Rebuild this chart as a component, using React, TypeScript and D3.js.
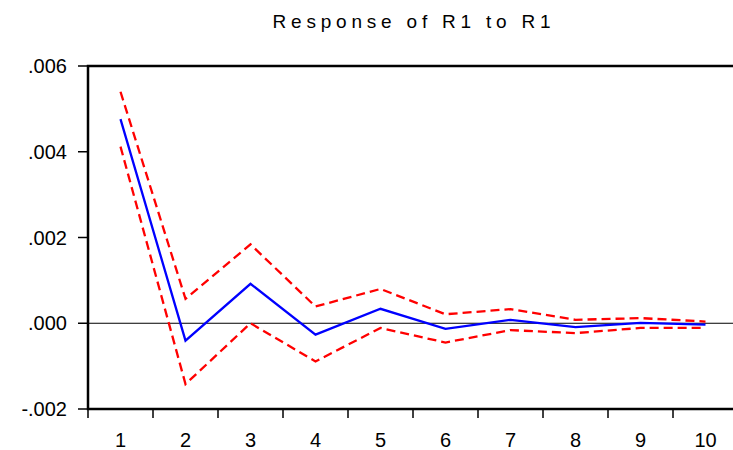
import { useRef, useEffect } from "react";
import * as d3 from "d3";

// periods on the x axis
const periods: string[] = ["1", "2", "3", "4", "5", "6", "7", "8", "9", "10"];

// impulse response and +/- 2 S.E. bands
const response: number[] = [0.00476, -0.000405, 0.00092, -0.000264, 0.000337, -0.00013, 0.00008, -0.00009, 0.00001, -0.00003];
const upperBand: number[] = [0.0054, 0.00057, 0.00184, 0.00039, 0.0008, 0.00021, 0.00033, 0.00008, 0.00012, 0.00004];
const lowerBand: number[] = [0.00412, -0.00142, 0.0, -0.00089, -0.00011, -0.00045, -0.00016, -0.00023, -0.00011, -0.00011];

const yTicks: number[] = [-0.002, 0, 0.002, 0.004, 0.006];
const yTickLabels: string[] = ["-.002", ".000", ".002", ".004", ".006"];

const App = () => {
  const svgRef = useRef<SVGSVGElement | null>(null);

  useEffect(() => {
    const width = 733;
    const height = 450;
    const margin = { top: 66, right: -5, bottom: 41, left: 88 };

    const svg = d3.select(svgRef.current);
    svg.selectAll("*").remove();

    const x = d3.scaleBand<string>()
      .domain(periods)
      .range([margin.left, width - margin.right]);

    const y = d3.scaleLinear()
      .domain([-0.002, 0.006])
      .range([height - margin.bottom, margin.top]);

    const font = "'Liberation Sans', Arial, sans-serif";

    // title
    svg.append("text")
      .attr("x", 414)
      .attr("y", 28)
      .attr("text-anchor", "middle")
      .attr("font-family", font)
      .attr("font-size", 19)
      .attr("letter-spacing", 4.8)
      .attr("fill", "#000")
      .text("Response of R1 to R1");

    // zero line
    svg.append("line")
      .attr("x1", margin.left)
      .attr("x2", width)
      .attr("y1", y(0))
      .attr("y2", y(0))
      .attr("stroke", "#000")
      .attr("stroke-width", 1);

    // lines
    const line = d3.line<number>()
      .x((_, i) => (x(periods[i]) as number) + x.bandwidth() / 2)
      .y(d => y(d));

    svg.append("path")
      .datum(upperBand)
      .attr("d", line)
      .attr("fill", "none")
      .attr("stroke", "#ff0000")
      .attr("stroke-width", 2.3)
      .attr("stroke-dasharray", "9,5");

    svg.append("path")
      .datum(lowerBand)
      .attr("d", line)
      .attr("fill", "none")
      .attr("stroke", "#ff0000")
      .attr("stroke-width", 2.3)
      .attr("stroke-dasharray", "9,5");

    svg.append("path")
      .datum(response)
      .attr("d", line)
      .attr("fill", "none")
      .attr("stroke", "#0000ff")
      .attr("stroke-width", 2.3);

    // frame
    svg.append("rect")
      .attr("x", margin.left)
      .attr("y", margin.top)
      .attr("width", width - margin.right - margin.left)
      .attr("height", height - margin.bottom - margin.top)
      .attr("fill", "none")
      .attr("stroke", "#000")
      .attr("stroke-width", 2.5);

    // y axis ticks + labels
    const yAxis = svg.append("g");
    yAxis.selectAll("line")
      .data(yTicks)
      .join("line")
      .attr("x1", margin.left - 10)
      .attr("x2", margin.left)
      .attr("y1", d => y(d))
      .attr("y2", d => y(d))
      .attr("stroke", "#000")
      .attr("stroke-width", 1.5);
    yAxis.selectAll("text")
      .data(yTicks)
      .join("text")
      .attr("x", margin.left - 21)
      .attr("y", d => y(d) + 7)
      .attr("text-anchor", "end")
      .attr("font-family", font)
      .attr("font-size", 20)
      .attr("fill", "#000")
      .text((_, i) => yTickLabels[i]);

    // x axis ticks at band edges + labels at centers
    const xAxis = svg.append("g");
    xAxis.selectAll("line")
      .data(periods)
      .join("line")
      .attr("x1", d => x(d) as number)
      .attr("x2", d => x(d) as number)
      .attr("y1", height - margin.bottom)
      .attr("y2", height - margin.bottom + 9)
      .attr("stroke", "#000")
      .attr("stroke-width", 1.5);
    xAxis.selectAll("text")
      .data(periods)
      .join("text")
      .attr("x", d => (x(d) as number) + x.bandwidth() / 2)
      .attr("y", 447)
      .attr("text-anchor", "middle")
      .attr("font-family", font)
      .attr("font-size", 20)
      .attr("fill", "#000")
      .text(d => d);
  }, []);

  return (
    <div style={{ position: "absolute", left: 0, top: 0 }}>
      <svg ref={svgRef} width={733} height={450} style={{ display: "block", background: "#fff" }} />
    </div>
  );
};

export default App;
